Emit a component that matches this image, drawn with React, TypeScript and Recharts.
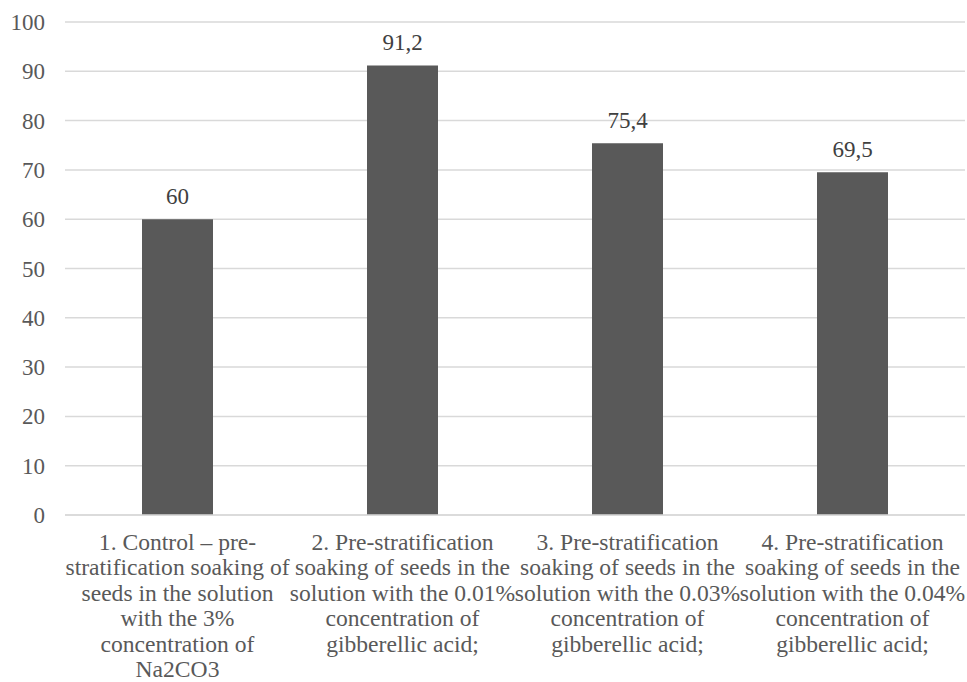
import React from "react";
import { BarChart, Bar, XAxis, YAxis, CartesianGrid, LabelList } from "recharts";

const categoryLines: string[][] = [
  ["1. Control – pre-", "stratification soaking of", "seeds in the solution", "with the 3%", "concentration of", "Na2CO3"],
  ["2. Pre-stratification", "soaking of seeds in the", "solution with the 0.01%", "concentration of", "gibberellic acid;"],
  ["3. Pre-stratification", "soaking of seeds in the", "solution with the 0.03%", "concentration of", "gibberellic acid;"],
  ["4. Pre-stratification", "soaking of seeds in the", "solution with the 0.04%", "concentration of", "gibberellic acid;"],
];
const values: number[] = [60, 91.2, 75.4, 69.5];
const yTicks: number[] = [0, 10, 20, 30, 40, 50, 60, 70, 80, 90, 100];

const data = values.map((v, i) => ({ name: String(i + 1), value: v }));

const FONT = "Liberation Serif";
const FS = 23;

// multi-line category label under each bar
const CategoryTick = (props: any) => {
  const { x, y, payload } = props;
  const lines = categoryLines[payload.index] || [];
  return (
    <g>
      <text x={x} y={y} textAnchor="middle" fill="#595959" fontFamily={FONT} fontSize={23.6}>
        {lines.map((l, i) => (
          <tspan key={i} x={x} y={y + 27 + i * 25.4}>{l}</tspan>
        ))}
      </text>
    </g>
  );
};

const ValueTick = (props: any) => {
  const { x, y, payload } = props;
  return (
    <text x={x} y={y} dy={8} textAnchor="end" fill="#595959" fontFamily={FONT} fontSize={FS}>
      {payload.value}
    </text>
  );
};

const App: React.FC = () => {
  return (
    <div style={{ position: "absolute", left: 0, top: 0, width: 967, height: 682, background: "#fff" }}>
      <BarChart
        width={967}
        height={682}
        data={data}
        margin={{ top: 22, right: 2, left: 0, bottom: 0 }}
        barCategoryGap={77}
      >
        <CartesianGrid vertical={false} stroke="#d9d9d9" strokeWidth={1.5} />
        <XAxis
          dataKey="name"
          height={167}
          tickLine={false}
          axisLine={{ stroke: "#d9d9d9", strokeWidth: 1.5 }}
          tick={CategoryTick}
          interval={0}
        />
        <YAxis
          width={65}
          domain={[0, 100]}
          ticks={yTicks}
          axisLine={false}
          tickLine={false}
          tickMargin={14}
          tick={ValueTick}
        />
        <Bar dataKey="value" fill="#595959" isAnimationActive={false}>
          <LabelList
            dataKey="value"
            position="top"
            offset={15}
            fontFamily={FONT}
            fontSize={FS}
            fill="#404040"
            formatter={(v: any) => String(v).replace(".", ",")}
          />
        </Bar>
      </BarChart>
    </div>
  );
};

export default App;
